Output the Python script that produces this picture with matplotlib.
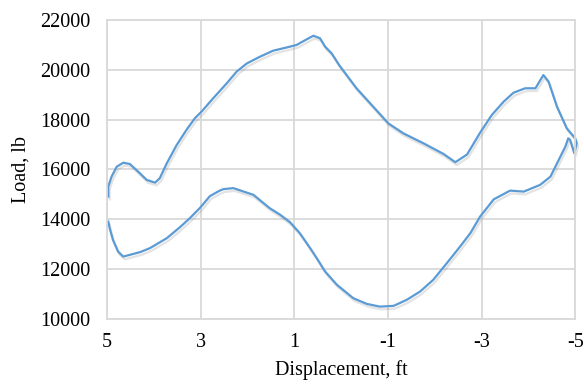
import matplotlib
matplotlib.use("Agg")
import matplotlib.pyplot as plt
import matplotlib.patheffects as pe

# upstroke (x from 5 to -5), then downstroke back to 5
displacement = [
    4.97, 4.97, 4.90, 4.79, 4.65, 4.51, 4.33, 4.15, 3.97, 3.87, 3.72, 3.51,
    3.30, 3.12, 2.98, 2.73, 2.44, 2.23, 2.01, 1.73, 1.45, 1.16, 0.95, 0.73,
    0.59, 0.45, 0.34, 0.20, 0.04, -0.33, -0.62, -1.01, -1.33, -1.76, -2.19,
    -2.44, -2.69, -2.97, -3.22, -3.47, -3.68, -3.93, -4.15, -4.32, -4.43,
    -4.61, -4.82, -5.00, -5.03, -4.98,
    -4.89, -4.85, -4.79, -4.47, -4.25, -3.90, -3.61, -3.26, -2.97, -2.76,
    -2.54, -2.26, -1.97, -1.69, -1.40, -1.12, -0.83, -0.55, -0.26, 0.09,
    0.34, 0.52, 0.66, 0.88, 1.09, 1.30, 1.52, 1.87, 2.30, 2.51, 2.59, 2.80,
    3.01, 3.23, 3.44, 3.72, 4.08, 4.29, 4.51, 4.65, 4.76, 4.87, 4.94, 4.97,
]
load = [
    14910, 15310, 15710, 16110, 16270, 16220, 15910, 15580, 15470, 15650,
    16250, 16980, 17590, 18060, 18320, 18860, 19460, 19930, 20260, 20530,
    20770, 20900, 21000, 21230, 21370, 21270, 20930, 20660, 20190, 19260,
    18660, 17850, 17450, 17050, 16620, 16290, 16600, 17480, 18190, 18720,
    19080, 19260, 19260, 19790, 19530, 18520, 17650, 17250, 17050, 16650,
    17190, 17250, 16920, 15710, 15380, 15110, 15150, 14800, 14110, 13440,
    12900, 12240, 11570, 11100, 10760, 10520, 10490, 10600, 10830, 11370,
    11900, 12440, 12840, 13440, 13880, 14180, 14440, 14980, 15250, 15210,
    15150, 14930, 14460, 14040, 13680, 13240, 12840, 12680, 12570, 12500,
    12700, 13170, 13640, 13906,
]

x_ticks = [5, 3, 1, -1, -3, -5]
y_ticks = [10000, 12000, 14000, 16000, 18000, 20000, 22000]

plt.rcParams["font.family"] = ["Liberation Serif", "DejaVu Serif"]
plt.rcParams["axes.unicode_minus"] = False

fig = plt.figure(figsize=(5.84, 3.86), dpi=100)
ax = fig.add_axes([0.183, 0.174, 0.802, 0.774])

ax.plot(displacement, load, color="#5B9BD5", linewidth=1.6, clip_on=False,
        path_effects=[pe.SimpleLineShadow(offset=(1, -2), shadow_color="gray", alpha=0.22),
                      pe.Normal()])

ax.set_xlim(5, -5)
ax.set_ylim(10000, 22000)
ax.set_xticks(x_ticks)
ax.set_yticks(y_ticks)
ax.grid(True, color="#d9d9d9", linewidth=1.3)
ax.set_axisbelow(True)
for spine in ax.spines.values():
    spine.set_color("#d9d9d9")
    spine.set_linewidth(1.3)
ax.tick_params(length=0, labelsize=14.5)
ax.tick_params(axis="x", pad=10)
ax.tick_params(axis="y", pad=12)
ax.set_xlabel("Displacement, ft", fontsize=14.5, labelpad=6)
ax.set_ylabel("Load, lb", fontsize=14.5, labelpad=7)

fig.savefig("out.png", dpi=100)
